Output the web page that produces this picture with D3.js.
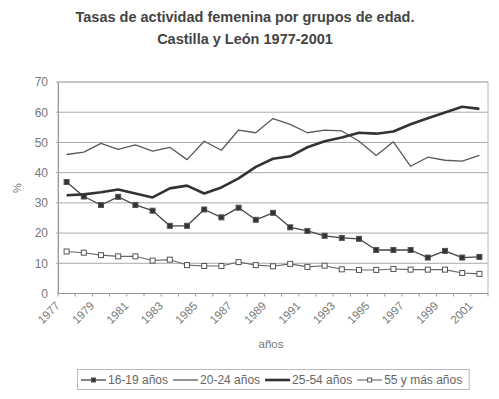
<!DOCTYPE html>
<html>
<head>
<meta charset="utf-8">
<script src="https://cdn.jsdelivr.net/npm/d3@7"></script>
<style>
  body { margin: 0; background: #fff; }
  svg { display: block; font-family: "Liberation Sans", Arial, sans-serif; }
</style>
</head>
<body>
<div id="chart"></div>
<script>
// years on the category axis
var years = d3.range(1977, 2002);
var yTicks = [0, 10, 20, 30, 40, 50, 60, 70];

var s1619 = [36.9, 32.1, 29.3, 32.0, 29.3, 27.4, 22.4, 22.4, 27.8, 25.2, 28.4, 24.4, 26.7,
  21.9, 20.7, 19.1, 18.4, 18.1, 14.4, 14.4, 14.4, 11.9, 14.1, 11.9, 12.1];
var s2024 = [46.0, 46.8, 49.7, 47.7, 49.2, 47.1, 48.4, 44.3, 50.4, 47.4, 54.1, 53.2, 57.9,
  56.0, 53.2, 54.1, 53.8, 50.4, 45.7, 50.2, 42.1, 45.1, 44.1, 43.8, 45.7];
var s2554 = [32.5, 32.8, 33.5, 34.4, 33.1, 31.8, 34.8, 35.7, 33.1, 35.1, 38.1, 41.9, 44.6,
  45.4, 48.4, 50.4, 51.6, 53.2, 52.9, 53.6, 56.0, 58.0, 59.9, 61.8, 61.1];
var s55 = [13.9, 13.5, 12.7, 12.3, 12.3, 10.9, 11.2, 9.4, 9.1, 9.1, 10.4, 9.4, 9.0,
  9.8, 8.8, 9.2, 8.0, 7.8, 7.8, 8.1, 7.9, 7.9, 7.9, 6.8, 6.5];

var seriesNames = ['16-19 años', '20-24 años', '25-54 años', '55 y más años'];

var series = [
  { name: seriesNames[0], values: s1619, color: '#444', width: 1.3, marker: 'filled' },
  { name: seriesNames[1], values: s2024, color: '#5a5a5a', width: 1.3, marker: null },
  { name: seriesNames[2], values: s2554, color: '#333', width: 2.6, marker: null },
  { name: seriesNames[3], values: s55, color: '#666', width: 1.1, marker: 'open' }
];

var width = 499, height = 399;
var margin = { top: 82, right: 11, bottom: 106, left: 58 };

var svg = d3.select('#chart').append('svg')
  .attr('width', width)
  .attr('height', height);

var x = d3.scaleBand()
  .domain(years)
  .range([margin.left, width - margin.right])
  .padding(0);

var y = d3.scaleLinear()
  .domain([0, 70])
  .range([height - margin.bottom + 0.5, margin.top]);

// title
svg.append('text')
  .attr('x', 245).attr('y', 22)
  .attr('text-anchor', 'middle')
  .attr('font-size', 14.5).attr('font-weight', 'bold').attr('fill', '#444')
  .text('Tasas de actividad femenina por grupos de edad.');
svg.append('text')
  .attr('x', 245).attr('y', 44)
  .attr('text-anchor', 'middle')
  .attr('font-size', 14.5).attr('font-weight', 'bold').attr('fill', '#444')
  .text('Castilla y León 1977-2001');

// gridlines
svg.append('g')
  .selectAll('line')
  .data(yTicks.filter(function(d) { return d > 0; }))
  .enter().append('line')
  .attr('x1', margin.left - 2)
  .attr('x2', width - margin.right)
  .attr('y1', function(d) { return y(d); })
  .attr('y2', function(d) { return y(d); })
  .attr('stroke', '#a8a8b0')
  .attr('stroke-width', 1);

// plot frame
svg.append('rect')
  .attr('x', margin.left).attr('y', y(70))
  .attr('width', width - margin.right - margin.left)
  .attr('height', y(0) - y(70))
  .attr('fill', 'none')
  .attr('stroke', '#b8b8c0')
  .attr('stroke-width', 1);

// y axis
var yAxis = svg.append('g')
  .attr('transform', 'translate(' + margin.left + ',0)')
  .call(d3.axisLeft(y).tickValues(yTicks).tickSize(0).tickPadding(10));
yAxis.select('.domain').attr('stroke', '#999');
yAxis.selectAll('text')
  .attr('font-size', 12).attr('fill', '#777')
  .attr('font-family', '"Liberation Sans", Arial, sans-serif');

// x axis, ticks between categories
var xAxisG = svg.append('g')
  .attr('transform', 'translate(0,' + y(0) + ')');
xAxisG.append('line')
  .attr('x1', margin.left).attr('x2', width - margin.right)
  .attr('stroke', '#999');
xAxisG.selectAll('.tk')
  .data(years.concat([2002]))
  .enter().append('line')
  .attr('class', 'tk')
  .attr('x1', function(d) { return d === 2002 ? x.range()[1] : x(d); })
  .attr('x2', function(d) { return d === 2002 ? x.range()[1] : x(d); })
  .attr('y1', 0).attr('y2', 3)
  .attr('stroke', '#999');
xAxisG.selectAll('.lbl')
  .data(years.filter(function(d) { return (d - 1977) % 2 === 0; }))
  .enter().append('text')
  .attr('class', 'lbl')
  .attr('text-anchor', 'end')
  .attr('font-size', 11.5).attr('fill', '#777')
  .attr('transform', function(d) {
    return 'translate(' + (x(d) + x.bandwidth() / 2 - 6) + ',13) rotate(-45)';
  })
  .text(function(d) { return d; });

// axis titles
svg.append('text')
  .attr('transform', 'translate(21,188) rotate(-90)')
  .attr('text-anchor', 'middle')
  .attr('font-size', 11).attr('fill', '#777')
  .text('%');
svg.append('text')
  .attr('x', 271).attr('y', 348)
  .attr('text-anchor', 'middle')
  .attr('font-size', 11.5).attr('fill', '#777')
  .text('años');

// lines
var line = d3.line()
  .x(function(d, i) { return x(years[i]) + x.bandwidth() / 2; })
  .y(function(d) { return y(d); });

series.forEach(function(s) {
  svg.append('path')
    .datum(s.values)
    .attr('d', line)
    .attr('fill', 'none')
    .attr('stroke', s.color)
    .attr('stroke-width', s.width)
    .attr('stroke-linejoin', 'round');
  if (s.marker) {
    svg.append('g').selectAll('rect')
      .data(s.values)
      .enter().append('rect')
      .attr('x', function(d, i) { return x(years[i]) + x.bandwidth() / 2 - 2.5; })
      .attr('y', function(d) { return y(d) - 2.5; })
      .attr('width', 5).attr('height', 5)
      .attr('fill', s.marker === 'filled' ? '#333' : '#fff')
      .attr('stroke', '#555')
      .attr('stroke-width', 1);
  }
});

// legend
var legend = svg.append('g');
var box = legend.append('rect')
  .attr('x', 77.5).attr('y', 369.5)
  .attr('height', 20)
  .attr('fill', '#fff')
  .attr('stroke', '#b8b8c0');

var lx = 81;
series.forEach(function(s) {
  var item = legend.append('g');
  item.append('line')
    .attr('x1', lx).attr('x2', lx + 25)
    .attr('y1', 380).attr('y2', 380)
    .attr('stroke', s.color)
    .attr('stroke-width', s.width);
  if (s.marker) {
    item.append('rect')
      .attr('x', lx + 12.5 - 2).attr('y', 378)
      .attr('width', 4).attr('height', 4)
      .attr('fill', s.marker === 'filled' ? '#333' : '#fff')
      .attr('stroke', '#555');
  }
  var t = item.append('text')
    .attr('x', lx + 27).attr('y', 384)
    .attr('font-size', 12).attr('fill', '#666')
    .text(s.name);
  lx += 27 + t.node().getComputedTextLength() + 5;
});
box.attr('width', lx - 77.5 + 2);
</script>
</body>
</html>
